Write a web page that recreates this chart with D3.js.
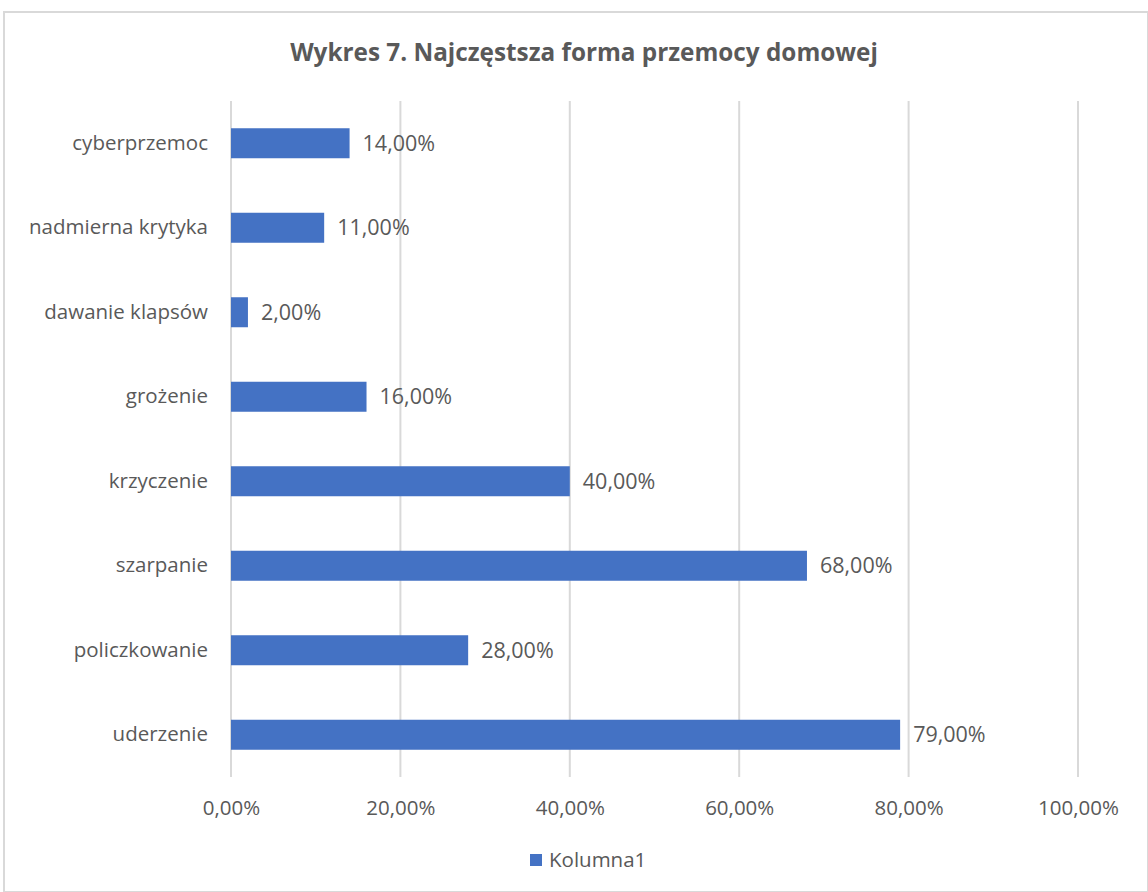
<!DOCTYPE html>
<html>
<head>
<meta charset="utf-8">
<script src="https://cdn.jsdelivr.net/npm/d3@7"></script>
<style>
  body { margin: 0; background: #fff; }
  svg { display: block; }
</style>
</head>
<body>
<svg id="chart" width="1148" height="892"></svg>
<script>
// data (top to bottom)
const categories = ["cyberprzemoc", "nadmierna krytyka", "dawanie klapsów", "grożenie",
  "krzyczenie", "szarpanie", "policzkowanie", "uderzenie"];
const values = [0.14, 0.11, 0.02, 0.16, 0.40, 0.68, 0.28, 0.79];
const xTicks = [0, 0.2, 0.4, 0.6, 0.8, 1.0];
const title = "Wykres 7. Najczęstsza forma przemocy domowej";
const seriesName = "Kolumna1";

const svg = d3.select("#chart");
const W = 1148, H = 892;
const margin = {top: 101, right: 70, bottom: 115, left: 231};
const FONT = "'Open Sans', 'Noto Sans', sans-serif";
const FS = "20.5px";
const textColor = "#595959";
const barColor = "#4472C4";

// frame
svg.append("rect")
  .attr("x", 4).attr("y", 12)
  .attr("width", W - 4).attr("height", H - 12)
  .attr("fill", "#fff")
  .attr("stroke", "#d9d9d9").attr("stroke-width", 2);

const x = d3.scaleLinear().domain([0, 1]).range([margin.left, 1078]);
const y = d3.scaleBand().domain(categories)
  .range([margin.top, H - margin.bottom])
  .paddingInner(0.645).paddingOuter(0.3225);

// gridlines
svg.append("g").selectAll("line").data(xTicks).join("line")
  .attr("x1", d => x(d)).attr("x2", d => x(d))
  .attr("y1", margin.top).attr("y2", H - margin.bottom)
  .attr("stroke", "#d9d9d9").attr("stroke-width", 2);

const fmt = v => d3.format(".2f")(v * 100).replace(".", ",") + "%";

// x axis labels
const xAxis = d3.axisBottom(x).tickValues(xTicks).tickFormat(fmt).tickSize(0).tickPadding(23);
svg.append("g")
  .attr("transform", `translate(0,${H - margin.bottom})`)
  .call(xAxis)
  .call(g => g.select(".domain").remove())
  .selectAll("text")
  .attr("fill", textColor).style("font-family", FONT).style("font-size", FS);

// y axis labels
const yAxis = d3.axisLeft(y).tickSize(0).tickPadding(23);
svg.append("g")
  .attr("transform", `translate(${margin.left},0)`)
  .call(yAxis)
  .call(g => g.select(".domain").remove())
  .selectAll("text")
  .attr("fill", textColor).style("font-family", FONT).style("font-size", FS);

// bars
svg.append("g").selectAll("rect").data(categories).join("rect")
  .attr("x", x(0))
  .attr("y", d => y(d))
  .attr("width", (d, i) => x(values[i]) - x(0))
  .attr("height", y.bandwidth())
  .attr("fill", barColor);

// value labels (a touch bigger than the axis text in the original)
svg.append("g").selectAll("text").data(categories).join("text")
  .attr("x", (d, i) => x(values[i]) + 13)
  .attr("y", d => y(d) + y.bandwidth() / 2)
  .attr("dy", "0.35em")
  .attr("fill", textColor)
  .style("font-family", FONT).style("font-size", "21.5px")
  .text((d, i) => fmt(values[i]));

// title
svg.append("text")
  .attr("x", 584).attr("y", 61)
  .attr("text-anchor", "middle")
  .attr("fill", textColor)
  .style("font-family", FONT)
  .style("font-weight", "bold").style("font-size", "24.3px")
  .text(title);

// legend
const lg = svg.append("g").attr("transform", "translate(530,860)");
lg.append("rect").attr("x", 0).attr("y", -6).attr("width", 12).attr("height", 12).attr("fill", barColor);
lg.append("text").attr("x", 19).attr("y", 0).attr("dy", "0.35em")
  .attr("fill", textColor)
  .style("font-family", FONT).style("font-size", FS)
  .text(seriesName);
</script>
</body>
</html>
